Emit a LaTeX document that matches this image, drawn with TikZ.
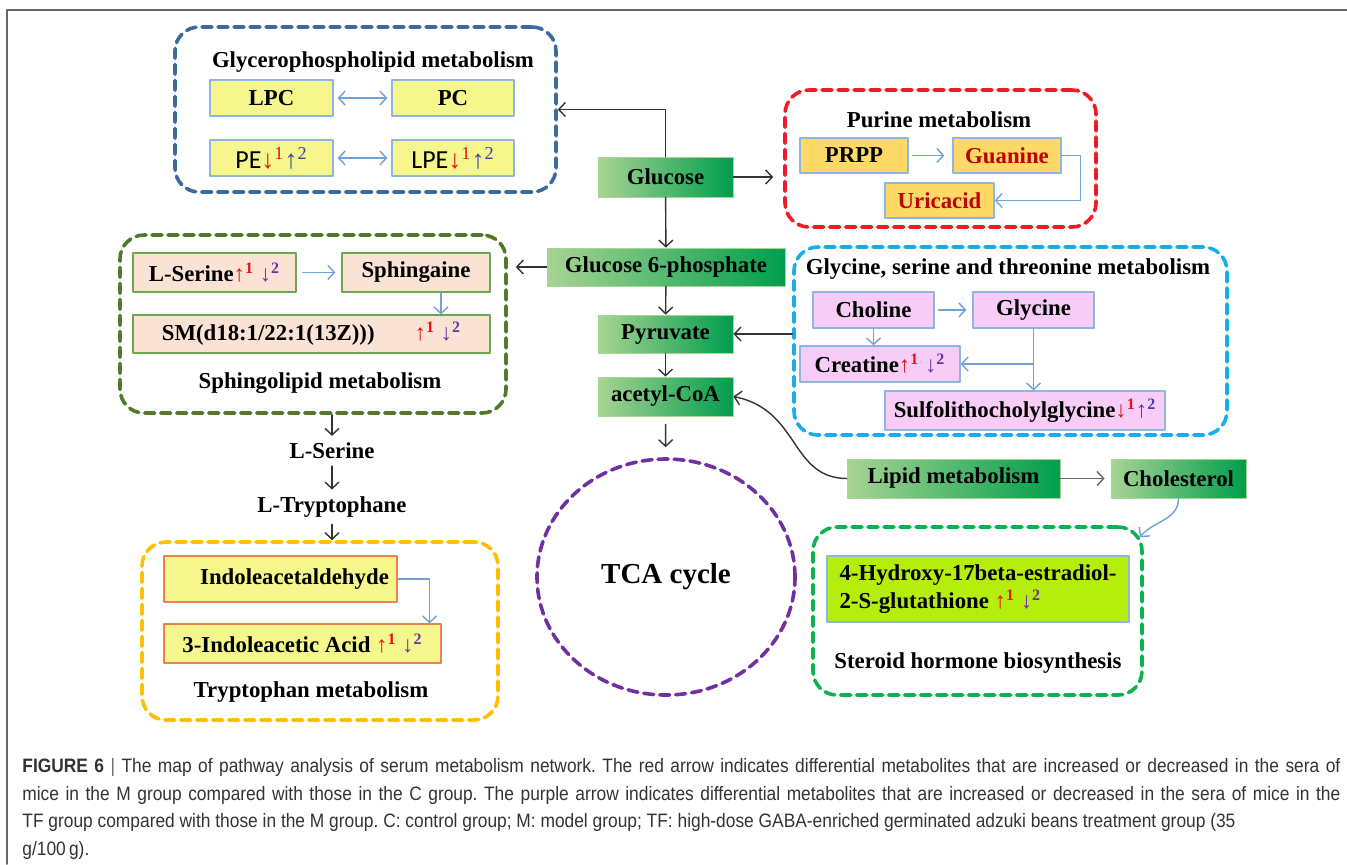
\documentclass[tikz,border=0pt]{standalone}
\usepackage{fontspec}
\setmainfont{Liberation Serif}
\newfontfamily\calfont{Carlito}
\newfontfamily\capfont[FakeStretch=0.895]{Liberation Sans}
\usepackage{xcolor}
\usetikzlibrary{arrows.meta,calc,fit,shapes.geometric}
\definecolor{tawcza}{rgb}{0.23,0.42,0.61}
\definecolor{ee1c25}{rgb}{0.93,0.11,0.15}
\definecolor{olivegr}{rgb}{0.31,0.48,0.16}
\definecolor{sky1bae}{rgb}{0.1,0.68,0.92}
\definecolor{ffcqqq}{rgb}{1.,0.75,0.}
\definecolor{purpqa}{rgb}{0.44,0.19,0.63}
\definecolor{qqbqtt}{rgb}{0.06,0.69,0.31}
\definecolor{ffff8c}{rgb}{0.96,0.97,0.55}
\definecolor{ffd966}{rgb}{1.,0.85,0.4}
\definecolor{fbe3d4}{rgb}{0.98,0.89,0.83}
\definecolor{f6cbf6}{rgb}{0.97,0.8,0.97}
\definecolor{b4ec0c}{rgb}{0.71,0.93,0.05}
\definecolor{eebbaa}{rgb}{0.94,0.5,0.31}
\definecolor{wwaa4f}{rgb}{0.42,0.66,0.31}
\definecolor{bordbl}{rgb}{0.56,0.71,0.89}
\definecolor{linebl}{rgb}{0.44,0.63,0.85}
\definecolor{greenl}{rgb}{0.66,0.83,0.58}
\definecolor{greend}{rgb}{0.,0.62,0.3}
\definecolor{ccqqqq}{rgb}{0.75,0.,0.}
\definecolor{ee1111}{rgb}{0.9,0.07,0.07}
\definecolor{pur2}{rgb}{0.44,0.19,0.63}
\definecolor{blu2}{rgb}{0.25,0.25,0.66}
\definecolor{tttttt}{rgb}{0.2,0.2,0.2}
\definecolor{wwwwww}{rgb}{0.4,0.4,0.4}
\tikzstyle{every node}=[font=\fontsize{11.4}{14}\selectfont\bfseries]
\tikzstyle{grp}=[draw, line width=1.8pt, dash pattern=on 5pt off 3pt, rounded corners=12pt, inner sep=0pt]
\tikzstyle{mbox}=[draw=bordbl, line width=0.6pt, inner sep=0pt]
\tikzstyle{sbox}=[draw=wwaa4f, fill=fbe3d4, line width=0.6pt, inner sep=0pt]
\tikzstyle{pbox}=[draw=bordbl, fill=f6cbf6, line width=0.6pt, inner sep=0pt]
\tikzstyle{tbox}=[draw=eebbaa, fill=ffff8c, line width=0.6pt, inner sep=0pt]
\tikzstyle{gbox}=[draw=greenl, left color=greenl, right color=greend, inner sep=0pt]
\tikzstyle{blk}=[->, draw=tttttt, line width=0.7pt]
\tikzstyle{blu}=[->, draw=linebl, line width=0.7pt]
\newcommand{\upa}{{\rmfamily\color{ee1111}↑\textsuperscript{1}}}
\newcommand{\downa}{{\rmfamily\color{ee1111}↓\textsuperscript{1}}}
\newcommand{\downb}{{\rmfamily\color{pur2}↓\textsuperscript{2}}}
\newcommand{\upb}{{\rmfamily\color{blu2}↑\textsuperscript{2}}}
\begin{document}
\begin{tikzpicture}[line cap=round,line join=round,>={Straight Barb[length=3.3pt,width=7pt]},x=0.5pt,y=-0.5pt]
    \useasboundingbox (0,0) rectangle (1347,864);
    \draw [line width=0.9pt,color=wwwwww] (7,864) -- (7,10) -- (1347,10);
    % Glycerophospholipid metabolism
    \node[grp, draw=tawcza, fit={(175,27) (556,192)}] (glp) {};
    \node (glpt) at (373,62) {Glycerophospholipid metabolism};
    \node[mbox, fill=ffff8c, fit={(210,80) (333,116)}, label=center:LPC] (lpc) {};
    \node[mbox, fill=ffff8c, fit={(392,80) (514,116)}, label=center:PC] (pc) {};
    \node[mbox, fill=ffff8c, fit={(210,140) (333,176)}, label={[font=\calfont\fontsize{13}{14}\selectfont]center:PE\downa\upb}] (pe) {};
    \node[mbox, fill=ffff8c, fit={(392,140) (514,176)}, label={[font=\calfont\fontsize{13}{14}\selectfont]center:LPE\downa\upb}] (lpe) {};
    % Purine metabolism
    \node[grp, draw=ee1c25, fit={(785,90) (1096,227)}] (pur) {};
    \node (purt) at (939,120) {Purine metabolism};
    \node[mbox, fill=ffd966, fit={(800,138) (908,173)}, label=center:PRPP] (prpp) {};
    \node[mbox, fill=ffd966, fit={(953,138) (1061,173)}, label={[text=ccqqqq]center:Guanine}] (gua) {};
    \node[mbox, fill=ffd966, fit={(885,183) (994,218)}, label={[text=ccqqqq]center:Uricacid}] (uric) {};
    % main chain
    \node[gbox, fit={(598,157) (733,197)}, label=center:Glucose] (glc) {};
    \node[gbox, fit={(547,248) (785,286)}, label=center:Glucose 6-phosphate] (g6p) {};
    \node[gbox, fit={(598,315) (733,353)}, label=center:Pyruvate] (pyr) {};
    \node[gbox, fit={(598,377) (733,416)}, label=center:acetyl-CoA] (acoa) {};
    \node[gbox, fit={(847,459) (1060,498)}, label=center:Lipid metabolism] (lipid) {};
    \node[gbox, fit={(1111,459) (1246,498)}, label=center:Cholesterol] (chol) {};
    \node[draw=purpqa, line width=1.8pt, dash pattern=on 5pt off 3pt, ellipse, minimum width=129pt, minimum height=118pt, inner sep=0pt, font=\fontsize{14.5}{16}\selectfont\bfseries] (tca) at (666,577) {TCA cycle};
    % Sphingolipid metabolism
    \node[grp, draw=olivegr, fit={(120,235) (506,413)}] (sph) {};
    \node[sbox, fit={(133,253) (296,292)}, label={center:L-Serine\upa\ \downb}] (lserb) {};
    \node[sbox, fit={(342,253) (490,292)}, label=center:Sphingaine] (sphg) {};
    \node[sbox, fit={(133,315) (490,353)}, label={center:SM(d18:1/22:1(13Z)))\hspace{20pt}\upa\ \downb\hspace{8pt}}] (sm) {};
    \node (spht) at (320,383) {Sphingolipid metabolism};
    \node (lser) at (332,451) {L-Serine};
    \node (ltrp) at (332,507) {L-Tryptophane};
    % Glycine, serine and threonine metabolism
    \node[grp, draw=sky1bae, fit={(794,247) (1227,435)}] (gly) {};
    \node (glyt) at (1008,269) {Glycine, serine and threonine metabolism};
    \node[pbox, fit={(813,292) (934,328)}, label=center:Choline] (cho) {};
    \node[pbox, fit={(973,292) (1094,328)}, label=center:Glycine] (glyn) {};
    \node[pbox, fit={(800,346) (960,382)}, label={center:Creatine\upa\ \downb}] (cre) {};
    \node[pbox, fit={(885,391) (1165,430)}, label={center:Sulfolithocholylglycine\downa\upb}] (sul) {};
    % Tryptophan metabolism
    \node[grp, draw=ffcqqq, fit={(142,542) (498,720)}] (trp) {};
    \node[tbox, fit={(164,556) (397,602)}, label={center:\hspace{14pt}Indoleacetaldehyde}] (iald) {};
    \node[tbox, fit={(164,624) (441,663)}, label={center:3-Indoleacetic Acid \upa\ \downb\hspace{24pt}}] (iaa) {};
    \node (trpt) at (311,692) {Tryptophan metabolism};
    % Steroid hormone biosynthesis
    \node[grp, draw=qqbqtt, fit={(813,527) (1142,695)}] (ste) {};
    \node[mbox, fill=b4ec0c, fit={(827,556) (1129,622)}, label={[align=left]center:4-Hydroxy-17beta-estradiol-\\2-S-glutathione \upa\ \downb}] (estr) {};
    \node (stet) at (978,663) {Steroid hormone biosynthesis};
    % connectors
    \draw[blk] (glc.north) |- (glp.east);
    \draw[blk, shorten >=5pt] (glc.east) -- (glc.east -| pur.west);
    \draw[blk] (glc) -- (g6p);
    \draw[blk, shorten >=4pt] (g6p.west) -- (g6p.west -| sph.east);
    \draw[blk] (g6p) -- (pyr);
    \draw[blk] (pyr) -- (acoa);
    \draw[blk, shorten <=4pt, shorten >=5pt] (acoa) -- (tca);
    \draw[blk] (pyr.east -| gly.west) -- (pyr.east);
    \draw[blk] (lipid.west) .. controls (790,478) and (800,410) .. (acoa.east);
    \draw[blk, draw=wwwwww, shorten >=3pt] (lipid) -- (chol);
    \draw[blu] (chol.south) to[out=-90, in=50] ([xshift=-2pt,yshift=-6pt]ste.north east);
    \draw[blk] (lser.north |- sph.south) -- (lser.north);
    \draw[blk] (lser) -- (ltrp);
    \draw[blk] (ltrp.south) -- (ltrp.south |- trp.north);
    \draw[blu, <->, shorten <=2pt, shorten >=2pt] (lpc) -- (pc);
    \draw[blu, <->, shorten <=2pt, shorten >=2pt] (pe) -- (lpe);
    \draw[blu, shorten <=2pt, shorten >=4pt] (prpp) -- (gua);
    \draw[blu] (gua.east) -- ([xshift=9.5pt]gua.east) |- (uric.east);
    \draw[blu, shorten <=3pt, shorten >=3pt] (lserb) -- (sphg);
    \draw[blu] ([xshift=12.5pt]sphg.south) -- ([xshift=12.5pt]sphg.south |- sm.north);
    \draw[blu, shorten <=2pt, shorten >=3pt] (cho) -- (glyn);
    \draw[blu] (cho.south) -- (cho.south |- cre.north);
    \draw[blu] (glyn.south) -- (glyn.south |- sul.north);
    \draw[blu] (glyn.south |- cre.east) -- (cre.east);
    \draw[blu] (iald.east) -| ([xshift=-6pt]iaa.north east);
    % caption
    \node[anchor=north west, inner sep=0pt, text width=659pt, align=justify, font=\capfont\fontsize{9.7}{13.8}\selectfont\frenchspacing, text=tttttt] (cap) at (22,758) {{\bfseries FIGURE 6} {\color{wwwwww}|} The map of pathway analysis of serum metabolism network. The red arrow indicates differential metabolites that are increased or decreased in the sera of\linebreak mice in the M group compared with those in the C group. The purple arrow indicates differential metabolites that are increased or decreased in the sera of mice in the\linebreak TF group compared with those in the M group. C: control group; M: model group; TF: high-dose GABA-enriched germinated adzuki beans treatment group (35\newline g/100\,g).};
\end{tikzpicture}
\end{document}
